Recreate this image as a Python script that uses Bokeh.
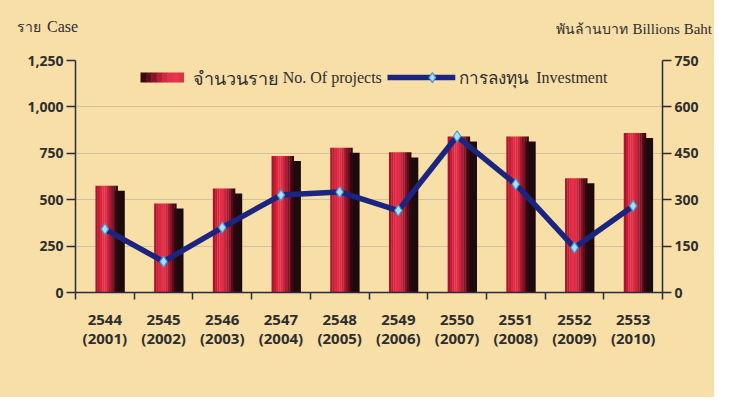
from bokeh.plotting import figure
from bokeh.layouts import column
from bokeh.models import Range1d, LinearAxis, FixedTicker, NumeralTickFormatter, Div
from bokeh.core.properties import value
from bokeh.embed import file_html
from bokeh.resources import INLINE

# ---------------- data ----------------
thai_years = ["2544", "2545", "2546", "2547", "2548", "2549", "2550", "2551", "2552", "2553"]
ad_years = ["2001", "2002", "2003", "2004", "2005", "2006", "2007", "2008", "2009", "2010"]
projects = [575, 480, 560, 735, 780, 755, 840, 840, 615, 860]
investment = [205, 100, 210, 315, 325, 265, 505, 350, 145, 280]
left_ticks = [0, 250, 500, 750, 1000, 1250]
right_ticks = [0, 150, 300, 450, 600, 750]
left_title = ["ราย", "Case"]
right_title = ["พันล้านบาท", "Billions Baht"]

BG = "#f8dfa8"
INK = "#2e2e2e"
LINE = "#1b2580"
W, H = 714, 397
HH = 40            # header strip height (holds the axis titles)
FL, FB = 75, 292   # frame left / bottom on the whole page

# ---------- header strip with the two axis titles ----------
def span(text, font, size, left=None, right=None, top=0):
    pos = f"left:{left}px;" if left is not None else f"right:{right}px;"
    return (f'<span style="position:absolute;{pos}top:{top}px;line-height:20px;'
            f'font-family:\'{font}\';font-size:{size}px;color:{INK};white-space:nowrap">{text}</span>')

hdr_html = (f'<div style="position:relative;width:{W}px;height:{HH}px;background:{BG};margin:0">'
            + span(left_title[0], "Noto Sans", 14, left=17, top=17)
            + span(left_title[1], "Liberation Serif", 16, left=47, top=17)
            + span(right_title[0], "Noto Sans", 14, right=W - 628, top=19)
            + span(right_title[1], "Liberation Serif", 15, right=W - 712, top=19)
            + '</div>')
hdr = Div(text=hdr_html, width=W, height=HH, margin=0,
          styles={"background-color": BG, "padding": "0", "margin": "0"})

# ---------- main chart ----------
p = figure(width=W, height=H - HH, x_range=Range1d(-0.5, 9.5), y_range=Range1d(0, 1250),
           output_backend="svg", toolbar_location=None,
           min_border_left=FL, min_border_right=52, min_border_top=60 - HH,
           min_border_bottom=H - FB)
p.background_fill_color = BG
p.border_fill_color = BG
p.outline_line_color = None
p.extra_y_ranges = {"inv": Range1d(0, 750)}

idx = list(range(len(projects)))

# shadows of bars
p.quad(left=[i + 0.15 for i in idx], right=[i + 0.34 for i in idx],
       bottom=0, top=[v - 27 for v in projects], fill_color="#1c0a0c", line_color=None)

# bar gradient (cylinder look), slices across the width
grad = ["#a8142c", "#c41d38", "#d92642", "#e42f4b", "#e02c47", "#cc233e",
        "#ab1a33", "#851328", "#5a0c1b", "#360710"]
bw = 0.38
n = len(grad)
for j, col in enumerate(grad):
    l = [i + 0.03 - bw / 2 + j * bw / n for i in idx]
    r = [i + 0.03 - bw / 2 + (j + 1.08) * bw / n for i in idx]
    p.quad(left=l, right=r, bottom=0, top=projects, fill_color=col, line_color=None)

# investment line
p.line(idx, investment, y_range_name="inv", line_color=LINE, line_width=5.5, line_join="round")
p.scatter(idx, investment, y_range_name="inv", marker="diamond", size=11,
          fill_color="#a6e2f4", line_color="#4a96d2", line_width=1.2)

# axes
AX = "#2a2a3a"
def style_y(ax):
    ax.major_tick_out = 9
    ax.major_tick_in = 0
    ax.minor_tick_line_color = None
    ax.axis_line_color = AX
    ax.axis_line_width = 1.5
    ax.major_tick_line_color = AX
    ax.major_tick_line_width = 1.5
    ax.major_label_text_font = "Open Sans"
    ax.major_label_text_font_style = "bold"
    ax.major_label_text_font_size = "14px"
    ax.major_label_text_color = INK
    ax.major_label_standoff = 3

p.yaxis.ticker = FixedTicker(ticks=left_ticks)
p.yaxis.formatter = NumeralTickFormatter(format="0,0")
style_y(p.yaxis[0])

ra = LinearAxis(y_range_name="inv", ticker=FixedTicker(ticks=right_ticks))
style_y(ra)
p.add_layout(ra, "right")

xa = p.xaxis[0]
xa.ticker = FixedTicker(ticks=idx, minor_ticks=[i - 0.5 for i in range(len(idx) + 1)])
xa.major_label_overrides = {i: f"{thai_years[i]}\n({ad_years[i]})" for i in idx}
xa.major_tick_line_color = None
xa.minor_tick_out = 7
xa.minor_tick_in = 0
xa.minor_tick_line_color = AX
xa.minor_tick_line_width = 1.5
xa.axis_line_color = AX
xa.axis_line_width = 1.5
xa.major_label_text_font = "Open Sans"
xa.major_label_text_font_style = "bold"
xa.major_label_text_font_size = "15px"
xa.major_label_text_line_height = 0.95
xa.major_label_text_color = INK
xa.major_label_standoff = 9

p.xgrid.grid_line_color = None
p.ygrid.ticker = FixedTicker(ticks=left_ticks[1:])
p.ygrid.grid_line_color = "#a9a6a0"
p.ygrid.grid_line_dash = "1 1"
p.ygrid.grid_line_width = 1

# legend (drawn manually)
sw = ["#3a0810", "#5e0e1c", "#88162a", "#b02036", "#d02a43", "#e2324b", "#e6354f", "#e23049"]
x0, x1 = 0.607, 1.34
for j, col in enumerate(sw):
    p.quad(left=[x0 + j * (x1 - x0) / len(sw)], right=[x0 + (j + 1.1) * (x1 - x0) / len(sw)],
           bottom=[1131], top=[1185], fill_color=col, line_color=None)
p.text(x=[1.51], y=[1158], text=["จำนวนราย"], text_font=value("Noto Sans"),
       text_font_size="18px", text_color=INK, text_baseline="middle")
p.text(x=[3.03], y=[1158], text=["No. Of projects"], text_font=value("Liberation Serif"),
       text_font_size="16px", text_color=INK, text_baseline="middle")
p.line(x=[4.815, 5.97], y=[1158, 1158], line_color=LINE, line_width=5.5)
p.scatter(x=[5.58], y=[1158], marker="diamond", size=10, fill_color="#a6e2f4",
          line_color="#4a96d2", line_width=1.2)
p.text(x=[6.03], y=[1158], text=["การลงทุน"], text_font=value("Noto Sans"),
       text_font_size="17px", text_color=INK, text_baseline="middle")
p.text(x=[7.35], y=[1158], text=["Investment"], text_font=value("Liberation Serif"),
       text_font_size="16px", text_color=INK, text_baseline="middle")

page = column(hdr, p, spacing=0, styles={"background-color": BG})
open("out.html", "w").write(file_html(page, INLINE))
